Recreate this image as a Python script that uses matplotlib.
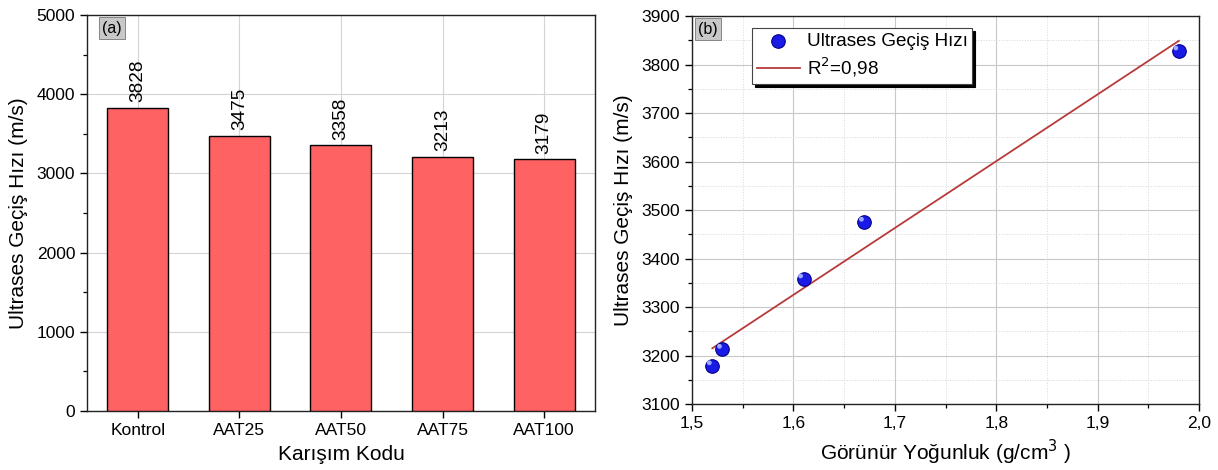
import numpy as np
import matplotlib
matplotlib.use("Agg")
from matplotlib import pyplot as plt
from matplotlib.ticker import MultipleLocator, FuncFormatter

plt.rcParams['font.family'] = ['Liberation Sans', 'DejaVu Sans']

# data
kodlar = ['Kontrol', 'AAT25', 'AAT50', 'AAT75', 'AAT100']
hiz = [3828, 3475, 3358, 3213, 3179]
yogunluk = [1.52, 1.53, 1.61, 1.67, 1.98]
hiz_b = [3179, 3213, 3358, 3475, 3828]

fig = plt.figure(figsize=(12.18, 4.70), dpi=100)
ax1 = fig.add_axes([0.0714, 0.1255, 0.4171, 0.8426])
ax2 = fig.add_axes([0.5682, 0.1404, 0.4163, 0.8255])

# ---- (a) bar chart
pos = np.arange(len(kodlar))
ax1.bar(pos, hiz, width=0.6, color='#ff6262', edgecolor='black', linewidth=1.0, zorder=3)
for p, v in zip(pos, hiz):
    ax1.text(p, v + 70, str(v), rotation=90, ha='center', va='bottom', fontsize=13.7, zorder=4)
ax1.set_xlim(-0.5, 4.5)
ax1.set_ylim(0, 5000)
ax1.set_xticks(pos)
ax1.set_xticklabels(kodlar, fontsize=12.5)
ax1.yaxis.set_major_locator(MultipleLocator(1000))
ax1.yaxis.set_minor_locator(MultipleLocator(500))
ax1.tick_params(axis='y', labelsize=12.5)
ax1.set_xlabel('Karışım Kodu', fontsize=15, labelpad=5)
ax1.set_ylabel('Ultrases Geçiş Hızı (m/s)', fontsize=15, labelpad=6)
ax1.grid(True, which='major', color='#d4d4d4', linewidth=0.8, zorder=0)
ax1.set_axisbelow(True)
ax1.text(0.03, 0.985, '(a)', transform=ax1.transAxes, ha='left', va='top', fontsize=11.5,
         bbox=dict(boxstyle='square,pad=0.22', facecolor='#c8c8c8', edgecolor='#777777', linewidth=0.6))

# ---- (b) scatter + fit
k, b = np.polyfit(yogunluk, hiz_b, 1)
xs = np.array([min(yogunluk), max(yogunluk)])
ax2.plot(xs, k * xs + b, color='#b83a3a', linewidth=1.3, label='R$^2$=0,98', zorder=3)
ax2.scatter(yogunluk, hiz_b, s=95, color='#1a1ae6', edgecolor='#00008b', linewidth=0.8,
            label='Ultrases Geçiş Hızı', zorder=4)
ax2.scatter(np.array(yogunluk) - 0.003, np.array(hiz_b) + 6, s=12, color='#9da8ff',
            edgecolor='none', zorder=5)
ax2.set_xlim(1.5, 2.0)
ax2.set_ylim(3100, 3900)
ax2.xaxis.set_major_locator(MultipleLocator(0.1))
ax2.xaxis.set_minor_locator(MultipleLocator(0.05))
ax2.yaxis.set_major_locator(MultipleLocator(100))
ax2.yaxis.set_minor_locator(MultipleLocator(50))
ax2.xaxis.set_major_formatter(FuncFormatter(lambda v, p: f'{v:.1f}'.replace('.', ',')))
ax2.tick_params(labelsize=12.5)
ax2.set_xlabel('Görünür Yoğunluk (g/cm$^3$ )', fontsize=15, labelpad=5)
ax2.set_ylabel('Ultrases Geçiş Hızı (m/s)', fontsize=15, labelpad=6)
ax2.grid(True, which='major', color='#c8c8c8', linewidth=0.8, zorder=0)
ax2.grid(True, which='minor', color='#d8d8d8', linewidth=0.7, linestyle=':', zorder=0)
ax2.set_axisbelow(True)
ax2.text(0.012, 0.985, '(b)', transform=ax2.transAxes, ha='left', va='top', fontsize=11.5,
         bbox=dict(boxstyle='square,pad=0.22', facecolor='#c8c8c8', edgecolor='#777777', linewidth=0.6))

h, l = ax2.get_legend_handles_labels()
leg = ax2.legend([h[1], h[0]], [l[1], l[0]], loc='upper left', bbox_to_anchor=(0.118, 0.969),
                 borderaxespad=0, fontsize=13.6, frameon=True, fancybox=False, framealpha=1,
                 edgecolor='#444444', shadow={'color': 'black', 'alpha': 1}, borderpad=0.25,
                 handlelength=2.3, handletextpad=0.35, labelspacing=0.3)
leg.get_frame().set_linewidth(0.8)

for ax in (ax1, ax2):
    for s in ax.spines.values():
        s.set_linewidth(1.0)
        s.set_color('#222222')
    ax.tick_params(which='major', direction='out', length=5, width=1.0)
    ax.tick_params(which='minor', direction='out', length=3, width=0.9)
ax1.tick_params(axis='x', which='minor', bottom=False)

fig.savefig('out.png', dpi=100)
